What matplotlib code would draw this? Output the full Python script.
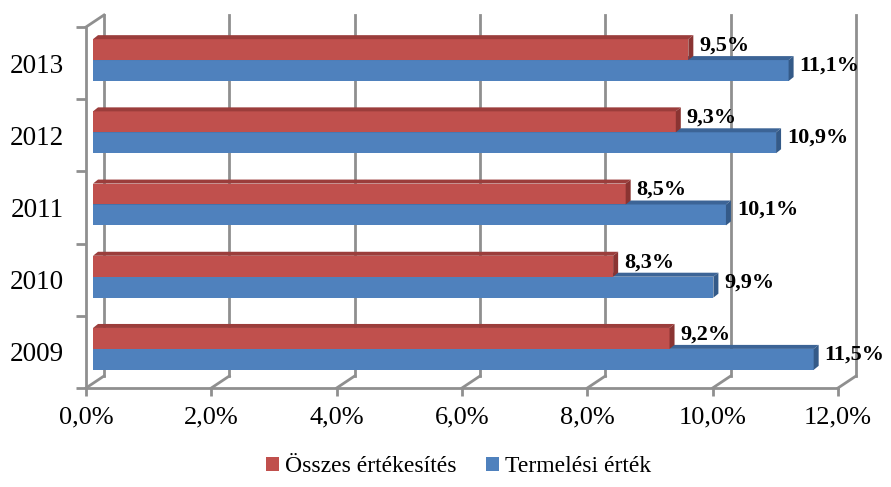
import matplotlib.pyplot as plt
from matplotlib.patches import Polygon, Patch
import numpy as np

years = ["2009", "2010", "2011", "2012", "2013"]
osszes = [9.2, 8.3, 8.5, 9.3, 9.5]        # Összes értékesítés
termelesi = [11.5, 9.9, 10.1, 10.9, 11.1]  # Termelési érték
xticks = [0, 2, 4, 6, 8, 10, 12]
xticklabels = ["0,0%", "2,0%", "4,0%", "6,0%", "8,0%", "10,0%", "12,0%"]

red = "#C0504D"
red_top = "#9B3D3B"
red_side = "#8A3432"
blue = "#4F81BD"
blue_top = "#3C6496"
blue_side = "#345A88"
grid = "#8f8f8f"

plt.rcParams['font.family'] = ['Liberation Serif', 'DejaVu Serif']

fig = plt.figure(figsize=(8.91, 4.87), dpi=100)
# front plot area in pixels: x 86..838, y 27..388
ax = fig.add_axes([86 / 891, 1 - 388 / 487, 752 / 891, 361 / 487])
ax.set_xlim(0, 12)
ax.set_ylim(-0.5, 4.5)

# pixel -> data unit helpers
px_x = 12 / 752
px_y = 5 / 361

# back wall offset (3D depth)
bdx, bdy = 18 * px_x, 12 * px_y
# bars sit at mid depth
mdx, mdy = 7 * px_x, 3 * px_y
# bar thickness in depth
ddx, ddy = 5 * px_x, 4 * px_y
h = 0.29

# back gridlines and floor diagonals
for x in xticks:
    ax.plot([x + bdx, x + bdx], [-0.5 + bdy, 4.5 + bdy], color=grid, lw=2,
            clip_on=False, zorder=1)
    ax.plot([x, x + bdx], [-0.5, -0.5 + bdy], color=grid, lw=2,
            clip_on=False, zorder=1)
ax.plot([0, bdx], [4.5, 4.5 + bdy], color=grid, lw=2, clip_on=False, zorder=1)


def draw_bar(v, y0, y1, cf, ct, cs):
    x0 = mdx
    x1 = v + mdx
    front = Polygon([(x0, y0), (x1, y0), (x1, y1), (x0, y1)], closed=True,
                    facecolor=cf, edgecolor="none", zorder=3, clip_on=False)
    top = Polygon([(x0, y1), (x1, y1), (x1 + ddx, y1 + ddy), (x0 + ddx, y1 + ddy)],
                  closed=True, facecolor=ct, edgecolor="none", zorder=3, clip_on=False)
    side = Polygon([(x1, y0), (x1 + ddx, y0 + ddy), (x1 + ddx, y1 + ddy), (x1, y1)],
                   closed=True, facecolor=cs, edgecolor="none", zorder=3, clip_on=False)
    for p in (front, top, side):
        ax.add_patch(p)


for i in range(len(years)):
    c = i + mdy
    draw_bar(termelesi[i], c - h, c, blue, blue_top, blue_side)
    draw_bar(osszes[i], c, c + h, red, red_top, red_side)
    ax.text(osszes[i] + mdx + ddx + 6 * px_x, c + h / 2 + 4 * px_y,
            f"{osszes[i]:.1f}%".replace(".", ","), ha="left", va="center",
            fontsize=16, fontweight="bold", zorder=5)
    ax.text(termelesi[i] + mdx + ddx + 6 * px_x, c - h / 2 + 5 * px_y,
            f"{termelesi[i]:.1f}%".replace(".", ","), ha="left", va="center",
            fontsize=16, fontweight="bold", zorder=5)

# front axes
for s in ("top", "right"):
    ax.spines[s].set_visible(False)
for s in ("left", "bottom"):
    ax.spines[s].set_color(grid)
    ax.spines[s].set_linewidth(2)
    ax.spines[s].set_zorder(4)

ax.set_xticks(xticks)
ax.set_xticklabels(xticklabels, fontsize=19)
ax.set_yticks(range(len(years)))
ax.set_yticklabels(years, fontsize=19.5)
ax.set_yticks(np.arange(-0.5, 5, 1), minor=True)
ax.tick_params(axis="y", which="major", length=0, pad=16)
ax.tick_params(axis="y", which="minor", length=7, width=2, color=grid)
ax.tick_params(axis="x", which="major", length=6, width=2, color=grid, pad=7)

handles = [Patch(facecolor=red, label="Összes értékesítés"),
           Patch(facecolor=blue, label="Termelési érték")]
fig.legend(handles=handles, loc="center", bbox_to_anchor=(0.515, 1 - 467 / 487),
           ncol=2, frameon=False, fontsize=17, handlelength=0.55,
           handleheight=0.55, handletextpad=0.25, columnspacing=1.25)

fig.savefig("out.png", dpi=100)
